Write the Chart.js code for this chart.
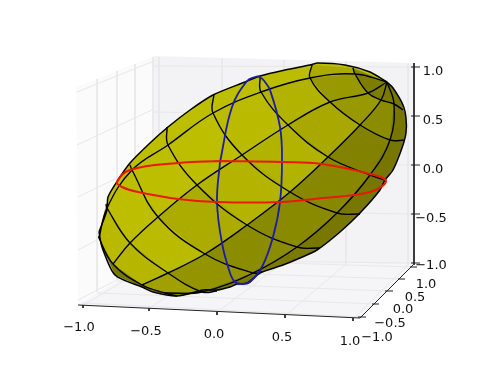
<!DOCTYPE html>
<html>
<head>
<meta charset="utf-8">
<style>body { margin: 0; background: #fff; }</style>
<script src="https://cdn.jsdelivr.net/npm/chart.js@4/dist/chart.umd.min.js"></script>
</head>
<body>
<canvas id="canvas" width="490" height="373"></canvas>
<script>
const wallLeft = [[76,87],[154,56],[155,258],[78,305],[76,87]];
const wallBack = [[154,56],[413,63],[413,265],[155,258],[154,56]];
const floorPane = [[78,305],[155,258],[413,265],[360,318],[78,305]];

const wallLeftGrid = [
    [[97,79],[97,292]], [[117,71],[117,280]], [[135,64],[135,270]], [[153,57],[153,259]],
    [[77,92],[154,61]], [[77,145],[154,109]], [[78,197],[154,160]], [[78,250],[154,210]], [[78,300],[155,260]]
];
const wallBackGrid = [
    [[159,57],[159,259]], [[222,58],[222,261]], [[284,60],[284,262]], [[346,61],[346,264]], [[408,63],[408,265]],
    [[154,66],[413,67]], [[154,112],[413,116]], [[155,161],[413,165]], [[155,210],[413,214]], [[155,260],[413,263]]
];
const floorGrid = [
    [[159,260],[82,306]], [[222,261],[148,309]], [[284,262],[216,313]], [[346,264],[285,316]], [[408,265],[353,319]],
    [[82,303],[362,317]], [[97,293],[376,304]], [[117,281],[389,291]], [[135,270],[402,279]], [[153,259],[413,267]]
];

const axisLines = [
    [[78,305],[360,318]], [[360,318],[413,265]], [[414,63],[414,265]]
];
const tickMarks = [
    [[83,305],[83,308]], [[149,308],[149,311]], [[217,312],[217,315]], [[285,315],[285,318]], [[353,318],[353,321]],
    [[358,317],[366,317]], [[372,304],[379,304]], [[385,291],[393,291]], [[398,279],[405,279]], [[410,267],[417,267]],
    [[411,67],[420,67]], [[411,116],[420,116]], [[411,165],[420,165]], [[411,214],[420,214]], [[411,263],[420,263]]
];

const tickLabels = ['−1.0','−0.5','0.0','0.5','1.0', '−1.0','−0.5','0.0','0.5','1.0', '1.0','0.5','0.0','−0.5','−1.0'];
const tickLabelSpots = [
    [79,328],[146,332],[214,335],[282,338],[350,342],
    [377,338],[390,324],[403,310],[415,298],[426,285],
    [433,72],[433,121],[433,170],[431,219],[431,266]
];

// silhouette, split at the pole and at the far left
const outlineUpper = [
    [99,232],[107,210],[108,197],[118,180],[130,163],[150,143],[168,127],[190,110],[213,95],[245,82],
    [260,76],[285,70],[310,65],[318,63],[345,65],[370,72],[387,82]
];
const outlineLower = [
    [387,82],[393,88],[403,105],[406,118],[406,133],[402,148],[393,170],[385,180],[380,190],[360,213],[340,232],[317,250],
    [300,258],[283,265],[260,273],[247,283],[237,284],[230,287],[217,290],[203,290],[177,296],[153,292],
    [142,287],[115,275],[102,247],[99,232]
];

// surface nodes, one row per meridian, running to the pole
const pole = [387,82];
const meridians = [
    [[99,236],[106,204],[130,165],[167,127],[214,94],[260,77],[312,65],[353,68],pole],
    [[99,238],[107,208],[132,170],[168,145],[213,113],[261,92],[310,78],[355,74],pole],
    [[113,264],[130,243],[158,217],[197,185],[242,155],[288,125],[330,102],[368,93],pole],
    [[142,285],[168,273],[205,254],[247,225],[290,192],[328,157],[360,125],[381,100],pole],
    [[165,293],[202,292],[253,273],[297,247],[337,213],[370,175],[390,140],[394,104],pole],
    [[177,296],[217,291],[262,272],[320,248],[360,214],[385,180],[405,140],[403,110],pole]
];
const patchShades = [
    [188,190,190,190,190,188,170,135],
    [185,190,190,190,186,178,152,125],
    [182,186,172,180,178,168,152,125],
    [160,148,140,138,135,130,140,122],
    [130,125,122,120,118,118,118,118]
];

const redEllipse = [
    [222,161],[282,162],[322,164],[370,174],[386,181],
    [370,192],[323,198],[280,202],[217,202],[178,199],[138,192],[122,187],
    [117,182],[130,170],[178,163],[222,161]
];
const blueEllipse = [
    [220,162],[217,202],[222,243],[230,273],[235,282],[242,284],[250,282],
    [262,267],[273,237],[280,202],[282,160],[280,127],[270,90],[265,82],[260,77],[255,77],[247,81],[232,107],[220,162]
];

function xy(points) {
    return points.map(function (p) { return { x: p[0], y: p[1] }; });
}

function shape(points, color) {
    return { data: xy(points), showLine: true, borderWidth: 0, borderColor: 'transparent', backgroundColor: color, fill: 'shape', tension: 0, pointRadius: 0 };
}

function line(points, color, width, tension) {
    return { data: xy(points), showLine: true, borderWidth: width, borderColor: color, fill: false, tension: tension || 0, pointRadius: 0 };
}

let datasets = [];
datasets.push(shape(wallLeft, '#fbfbfc'));
datasets.push(shape(wallBack, '#f3f3f5'));
datasets.push(shape(floorPane, '#f5f5f7'));
wallLeftGrid.concat(wallBackGrid, floorGrid).forEach(function (g) { datasets.push(line(g, '#e8e8ea', 1)); });
axisLines.concat(tickMarks).forEach(function (g) { datasets.push(line(g, '#222222', 1)); });

datasets.push(shape(outlineUpper.concat([outlineUpper[0]]), '#bebe00'));
datasets.push(shape(outlineLower.concat([outlineLower[0]]), '#787800'));
patchShades.forEach(function (row, r) {
    row.forEach(function (v, c) {
        const a = meridians[r], b = meridians[r + 1];
        datasets.push(shape([a[c], a[c + 1], b[c + 1], b[c], a[c]], 'rgb(' + v + ',' + v + ',0)'));
    });
});
meridians.slice(1, 5).forEach(function (m) { datasets.push(line(m, '#000000', 1.4, 0.4)); });
for (let c = 0; c < 8; c++) {
    datasets.push(line(meridians.map(function (m) { return m[c]; }), '#000000', 1.4, 0.4));
}
datasets.push(line(outlineUpper, '#000000', 1.5, 0.25));
datasets.push(line(outlineLower, '#000000', 1.5, 0.25));
datasets.push(line(blueEllipse, '#1c1ca6', 1.8, 0.4));
datasets.push(line(redEllipse, '#e81a00', 2, 0.4));

// later entries go on top
datasets.forEach(function (d, i) { d.order = datasets.length - i; });

const tickLabelPlugin = {
    id: 'tickLabelPlugin',
    afterDatasetsDraw: function (chart) {
        const ctx = chart.ctx;
        ctx.save();
        ctx.font = '13px "DejaVu Sans"';
        ctx.fillStyle = '#111111';
        ctx.textAlign = 'center';
        ctx.textBaseline = 'middle';
        tickLabels.forEach(function (t, i) {
            ctx.fillText(t, chart.scales.x.getPixelForValue(tickLabelSpots[i][0]), chart.scales.y.getPixelForValue(tickLabelSpots[i][1]));
        });
        ctx.restore();
    }
};

const chart = new Chart(document.getElementById('canvas'), {
    type: 'scatter',
    data: { datasets: datasets },
    options: {
        responsive: false,
        animation: false,
        layout: { padding: 0 },
        plugins: { legend: { display: false }, tooltip: { enabled: false } },
        scales: {
            x: { type: 'linear', min: 0, max: 490, display: false },
            y: { type: 'linear', min: 0, max: 373, reverse: true, display: false }
        }
    },
    plugins: [tickLabelPlugin]
});
</script>
</body>
</html>
